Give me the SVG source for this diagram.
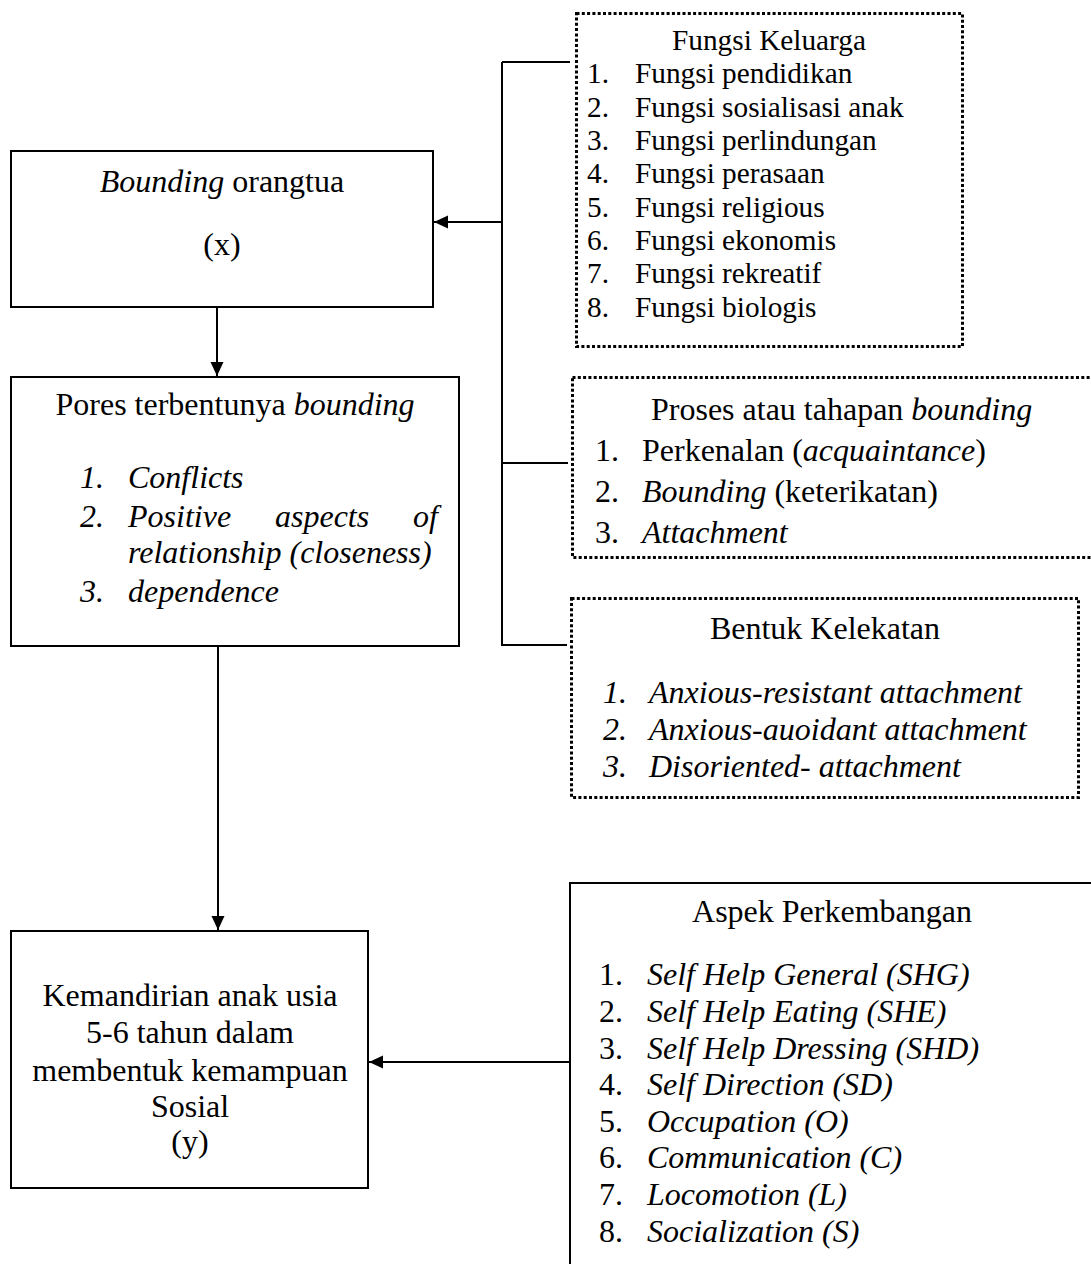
<svg xmlns="http://www.w3.org/2000/svg" width="1091" height="1264" viewBox="0 0 1091 1264">
<style>
.t{font-family:"Liberation Serif","Times New Roman",serif;fill:#000;font-size:32px}
.s{font-size:29.3px}
.i{font-style:italic}
.m{text-anchor:middle}
.e{text-anchor:end}
.box{fill:#fff;stroke:#000;stroke-width:2}
.dot{fill:#fff;stroke:#000;stroke-width:3;stroke-dasharray:3 2.3}
.ln{fill:none;stroke:#000;stroke-width:2}
</style>
<defs>
<marker id="ah" markerUnits="userSpaceOnUse" markerWidth="15" markerHeight="14" refX="14" refY="6.5" orient="auto">
<path d="M0,0 L14,6.5 L0,13 z" fill="#000"/>
</marker>
</defs>
<rect width="1091" height="1264" fill="#fff"/>

<g id="connectors">
<line class="ln" x1="502" y1="62" x2="502" y2="646"/>
<line class="ln" x1="502" y1="62" x2="570" y2="62"/>
<line class="ln" x1="502" y1="463" x2="568" y2="463"/>
<line class="ln" x1="502" y1="645" x2="567" y2="645"/>
<line class="ln" x1="502" y1="222" x2="434" y2="222" marker-end="url(#ah)"/>
<line class="ln" x1="217" y1="307" x2="217" y2="376" marker-end="url(#ah)"/>
<line class="ln" x1="218" y1="646" x2="218" y2="930" marker-end="url(#ah)"/>
<line class="ln" x1="570" y1="1062" x2="369" y2="1062" marker-end="url(#ah)"/>
</g>

<g id="bounding-orangtua">
<rect class="box" x="11" y="151" width="422" height="156"/>
<text class="t m" x="222" y="192"><tspan class="i">Bounding</tspan> orangtua</text>
<text class="t m" x="222" y="255">(x)</text>
</g>

<g id="pores">
<rect class="box" x="11" y="377" width="448" height="269"/>
<text class="t m" x="235" y="415">Pores terbentunya <tspan class="i">bounding</tspan></text>
<text class="t i" x="80" y="488">1.</text>
<text class="t i" x="128" y="488">Conflicts</text>
<text class="t i" x="80" y="527">2.</text>
<text class="t i" x="128" y="527">Positive</text>
<text class="t i" x="275" y="527">aspects</text>
<text class="t i e" x="438" y="527">of</text>
<text class="t i" x="128" y="563">relationship (closeness)</text>
<text class="t i" x="80" y="602">3.</text>
<text class="t i" x="128" y="602">dependence</text>
</g>

<g id="kemandirian">
<rect class="box" x="11" y="931" width="357" height="257"/>
<text class="t m" x="190" y="1006">Kemandirian anak usia</text>
<text class="t m" x="190" y="1043">5-6 tahun dalam</text>
<text class="t m" x="190" y="1081">membentuk kemampuan</text>
<text class="t m" x="190" y="1117">Sosial</text>
<text class="t m" x="190" y="1152">(y)</text>
</g>

<g id="fungsi-keluarga">
<rect class="dot" x="576.5" y="13.5" width="386" height="333"/>
<text class="t s m" x="769" y="50">Fungsi Keluarga</text>
<text class="t s" x="587" y="83">1.</text><text class="t s" x="635" y="83">Fungsi pendidikan</text>
<text class="t s" x="587" y="117">2.</text><text class="t s" x="635" y="117">Fungsi sosialisasi anak</text>
<text class="t s" x="587" y="150">3.</text><text class="t s" x="635" y="150">Fungsi perlindungan</text>
<text class="t s" x="587" y="183">4.</text><text class="t s" x="635" y="183">Fungsi perasaan</text>
<text class="t s" x="587" y="217">5.</text><text class="t s" x="635" y="217">Fungsi religious</text>
<text class="t s" x="587" y="250">6.</text><text class="t s" x="635" y="250">Fungsi ekonomis</text>
<text class="t s" x="587" y="283">7.</text><text class="t s" x="635" y="283">Fungsi rekreatif</text>
<text class="t s" x="587" y="317">8.</text><text class="t s" x="635" y="317">Fungsi biologis</text>
</g>

<g id="proses">
<rect class="dot" x="572.5" y="377.5" width="540" height="180"/>
<text class="t" x="651" y="420">Proses atau tahapan <tspan class="i">bounding</tspan></text>
<text class="t" x="595" y="461">1.</text><text class="t" x="642" y="461">Perkenalan (<tspan class="i">acquaintance</tspan>)</text>
<text class="t" x="595" y="502">2.</text><text class="t" x="642" y="502"><tspan class="i">Bounding</tspan> (keterikatan)</text>
<text class="t" x="595" y="543">3.</text><text class="t i" x="642" y="543">Attachment</text>
</g>

<g id="bentuk-kelekatan">
<rect class="dot" x="571.5" y="598.5" width="507" height="199"/>
<text class="t m" x="825" y="639">Bentuk Kelekatan</text>
<text class="t i" x="603" y="703">1.</text><text class="t i" x="649" y="703">Anxious-resistant attachment</text>
<text class="t i" x="603" y="740">2.</text><text class="t i" x="649" y="740">Anxious-auoidant attachment</text>
<text class="t i" x="603" y="777">3.</text><text class="t i" x="649" y="777">Disoriented- attachment</text>
</g>

<g id="aspek-perkembangan">
<rect class="box" x="570" y="883" width="540" height="400"/>
<text class="t m" x="832" y="922">Aspek Perkembangan</text>
<text class="t" x="599" y="985">1.</text><text class="t i" x="647" y="985">Self Help General (SHG)</text>
<text class="t" x="599" y="1022">2.</text><text class="t i" x="647" y="1022">Self Help Eating (SHE)</text>
<text class="t" x="599" y="1059">3.</text><text class="t i" x="647" y="1059">Self Help Dressing (SHD)</text>
<text class="t" x="599" y="1095">4.</text><text class="t i" x="647" y="1095">Self Direction (SD)</text>
<text class="t" x="599" y="1132">5.</text><text class="t i" x="647" y="1132">Occupation (O)</text>
<text class="t" x="599" y="1168">6.</text><text class="t i" x="647" y="1168">Communication (C)</text>
<text class="t" x="599" y="1205">7.</text><text class="t i" x="647" y="1205">Locomotion (L)</text>
<text class="t" x="599" y="1242">8.</text><text class="t i" x="647" y="1242">Socialization (S)</text>
</g>
</svg>
